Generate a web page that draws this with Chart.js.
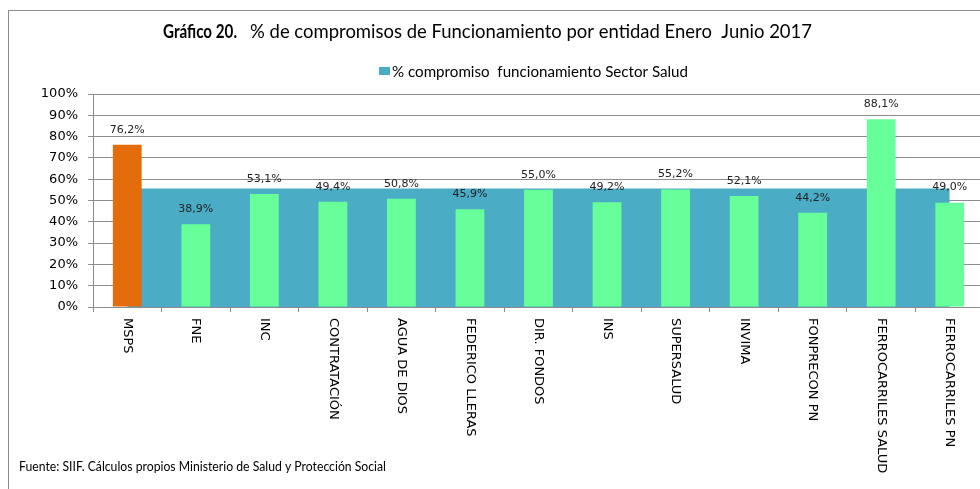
<!DOCTYPE html>
<html>
<head>
<meta charset="utf-8">
<script src="https://cdn.jsdelivr.net/npm/chart.js@4/dist/chart.umd.min.js"></script>
<style>
  html, body { margin: 0; padding: 0; background: #fff; overflow: hidden; }
  #wrap { position: relative; width: 980px; height: 489px; overflow: hidden; }
  #frame { position: absolute; left: 8px; top: 10px; width: 1200px; height: 1000px; border: 1px solid #8c8c8c; box-sizing: border-box; }
  #chart { position: absolute; left: 0; top: 0; }
</style>
</head>
<body>
<div id="wrap">
  <div id="frame"></div>
  <canvas id="chart" width="1000" height="489"></canvas>
</div>
<script>
// datos
const categories = ["MSPS", "FNE", "INC", "CONTRATACIÓN", "AGUA DE DIOS", "FEDERICO LLERAS", "DIR. FONDOS",
    "INS", "SUPERSALUD", "INVIMA", "FONPRECON PN", "FERROCARRILES SALUD", "FERROCARRILES PN"];
const entityValues = [76.2, 38.9, 53.1, 49.4, 50.8, 45.9, 55.0, 49.2, 55.2, 52.1, 44.2, 88.1, 49.0];
const sectorValues = [55.6, 55.6, 55.6, 55.6, 55.6, 55.6, 55.6, 55.6, 55.6, 55.6, 55.6, 55.6, 55.6];
const yTicks = [0, 10, 20, 30, 40, 50, 60, 70, 80, 90, 100];

const sectorLabel = "% compromiso  funcionamiento Sector Salud";
const titleBold = "Gráfico 20.";
const titleRest = "% de compromisos de Funcionamiento por entidad Enero  Junio 2017";
const footer = "Fuente: SIIF. Cálculos propios Ministerio de Salud y Protección Social";

const barColors = categories.map((c, i) => i === 0 ? "#E46C0A" : "#66FF99");
const gridColor = "#8c8c8c";

const decorations = {
    id: "decorations",
    afterDraw(chart) {
        const ctx = chart.ctx;
        const x = chart.scales.x;
        ctx.save();
        ctx.fillStyle = "#000";

        // titulo
        ctx.textBaseline = "middle";
        ctx.textAlign = "left";
        ctx.font = "bold 18px Lato";
        ctx.fillText(titleBold, 163, 32, 74);
        ctx.font = "19px Lato";
        ctx.fillText(titleRest, 250, 32, 562);

        // leyenda
        ctx.fillStyle = "#4BACC6";
        ctx.fillRect(379, 67, 11, 8);
        ctx.fillStyle = "#000";
        ctx.font = "15.5px Lato";
        ctx.fillText(sectorLabel, 392, 71.5, 296);

        // fuente
        ctx.font = "12.5px Lato";
        ctx.fillText(footer, 19, 467, 367);

        // etiquetas de categorias
        ctx.font = "13px 'DejaVu Sans'";
        categories.forEach((label, i) => {
            ctx.save();
            ctx.translate(x.getPixelForTick(i), 318);
            ctx.rotate(Math.PI / 2);
            ctx.textAlign = "left";
            ctx.textBaseline = "middle";
            ctx.fillText(label, 0, 0);
            ctx.restore();
        });

        // etiquetas de datos
        ctx.font = "11px 'DejaVu Sans'";
        ctx.fillStyle = "#222";
        ctx.textAlign = "center";
        const meta = chart.getDatasetMeta(0);
        meta.data.forEach((bar, i) => {
            ctx.fillText(entityValues[i].toFixed(1).replace(".", ",") + "%", bar.x, bar.y - 15);
        });
        ctx.restore();
    }
};

new Chart(document.getElementById("chart"), {
    data: {
        labels: categories,
        datasets: [{
            type: "bar",
            label: "Entidad",
            data: entityValues,
            backgroundColor: barColors,
            barPercentage: 0.42,
            categoryPercentage: 1,
            order: 1
        }, {
            type: "line",
            label: sectorLabel,
            data: sectorValues,
            fill: "origin",
            backgroundColor: "#4BACC6",
            borderWidth: 0,
            pointRadius: 0,
            tension: 0,
            order: 2
        }]
    },
    options: {
        responsive: false,
        animation: false,
        layout: { padding: { top: 94, right: 16, left: 0, bottom: 0 } },
        plugins: {
            legend: { display: false },
            title: { display: false },
            tooltip: { enabled: false }
        },
        scales: {
            x: {
                offset: true,
                grid: { drawOnChartArea: false, drawTicks: true, tickLength: 5, color: gridColor, offset: true },
                border: { color: gridColor },
                ticks: { display: false },
                afterFit: scale => { scale.height = 182; }
            },
            y: {
                min: 0,
                max: 100,
                afterBuildTicks: scale => { scale.ticks = yTicks.map(v => ({ value: v })); },
                ticks: {
                    callback: v => v + "%",
                    color: "#000",
                    padding: 10,
                    font: { family: "DejaVu Sans", size: 13 }
                },
                grid: { color: gridColor, tickLength: 5 },
                border: { color: gridColor },
                afterFit: scale => { scale.width = 93; }
            }
        }
    },
    plugins: [decorations]
});
</script>
</body>
</html>
